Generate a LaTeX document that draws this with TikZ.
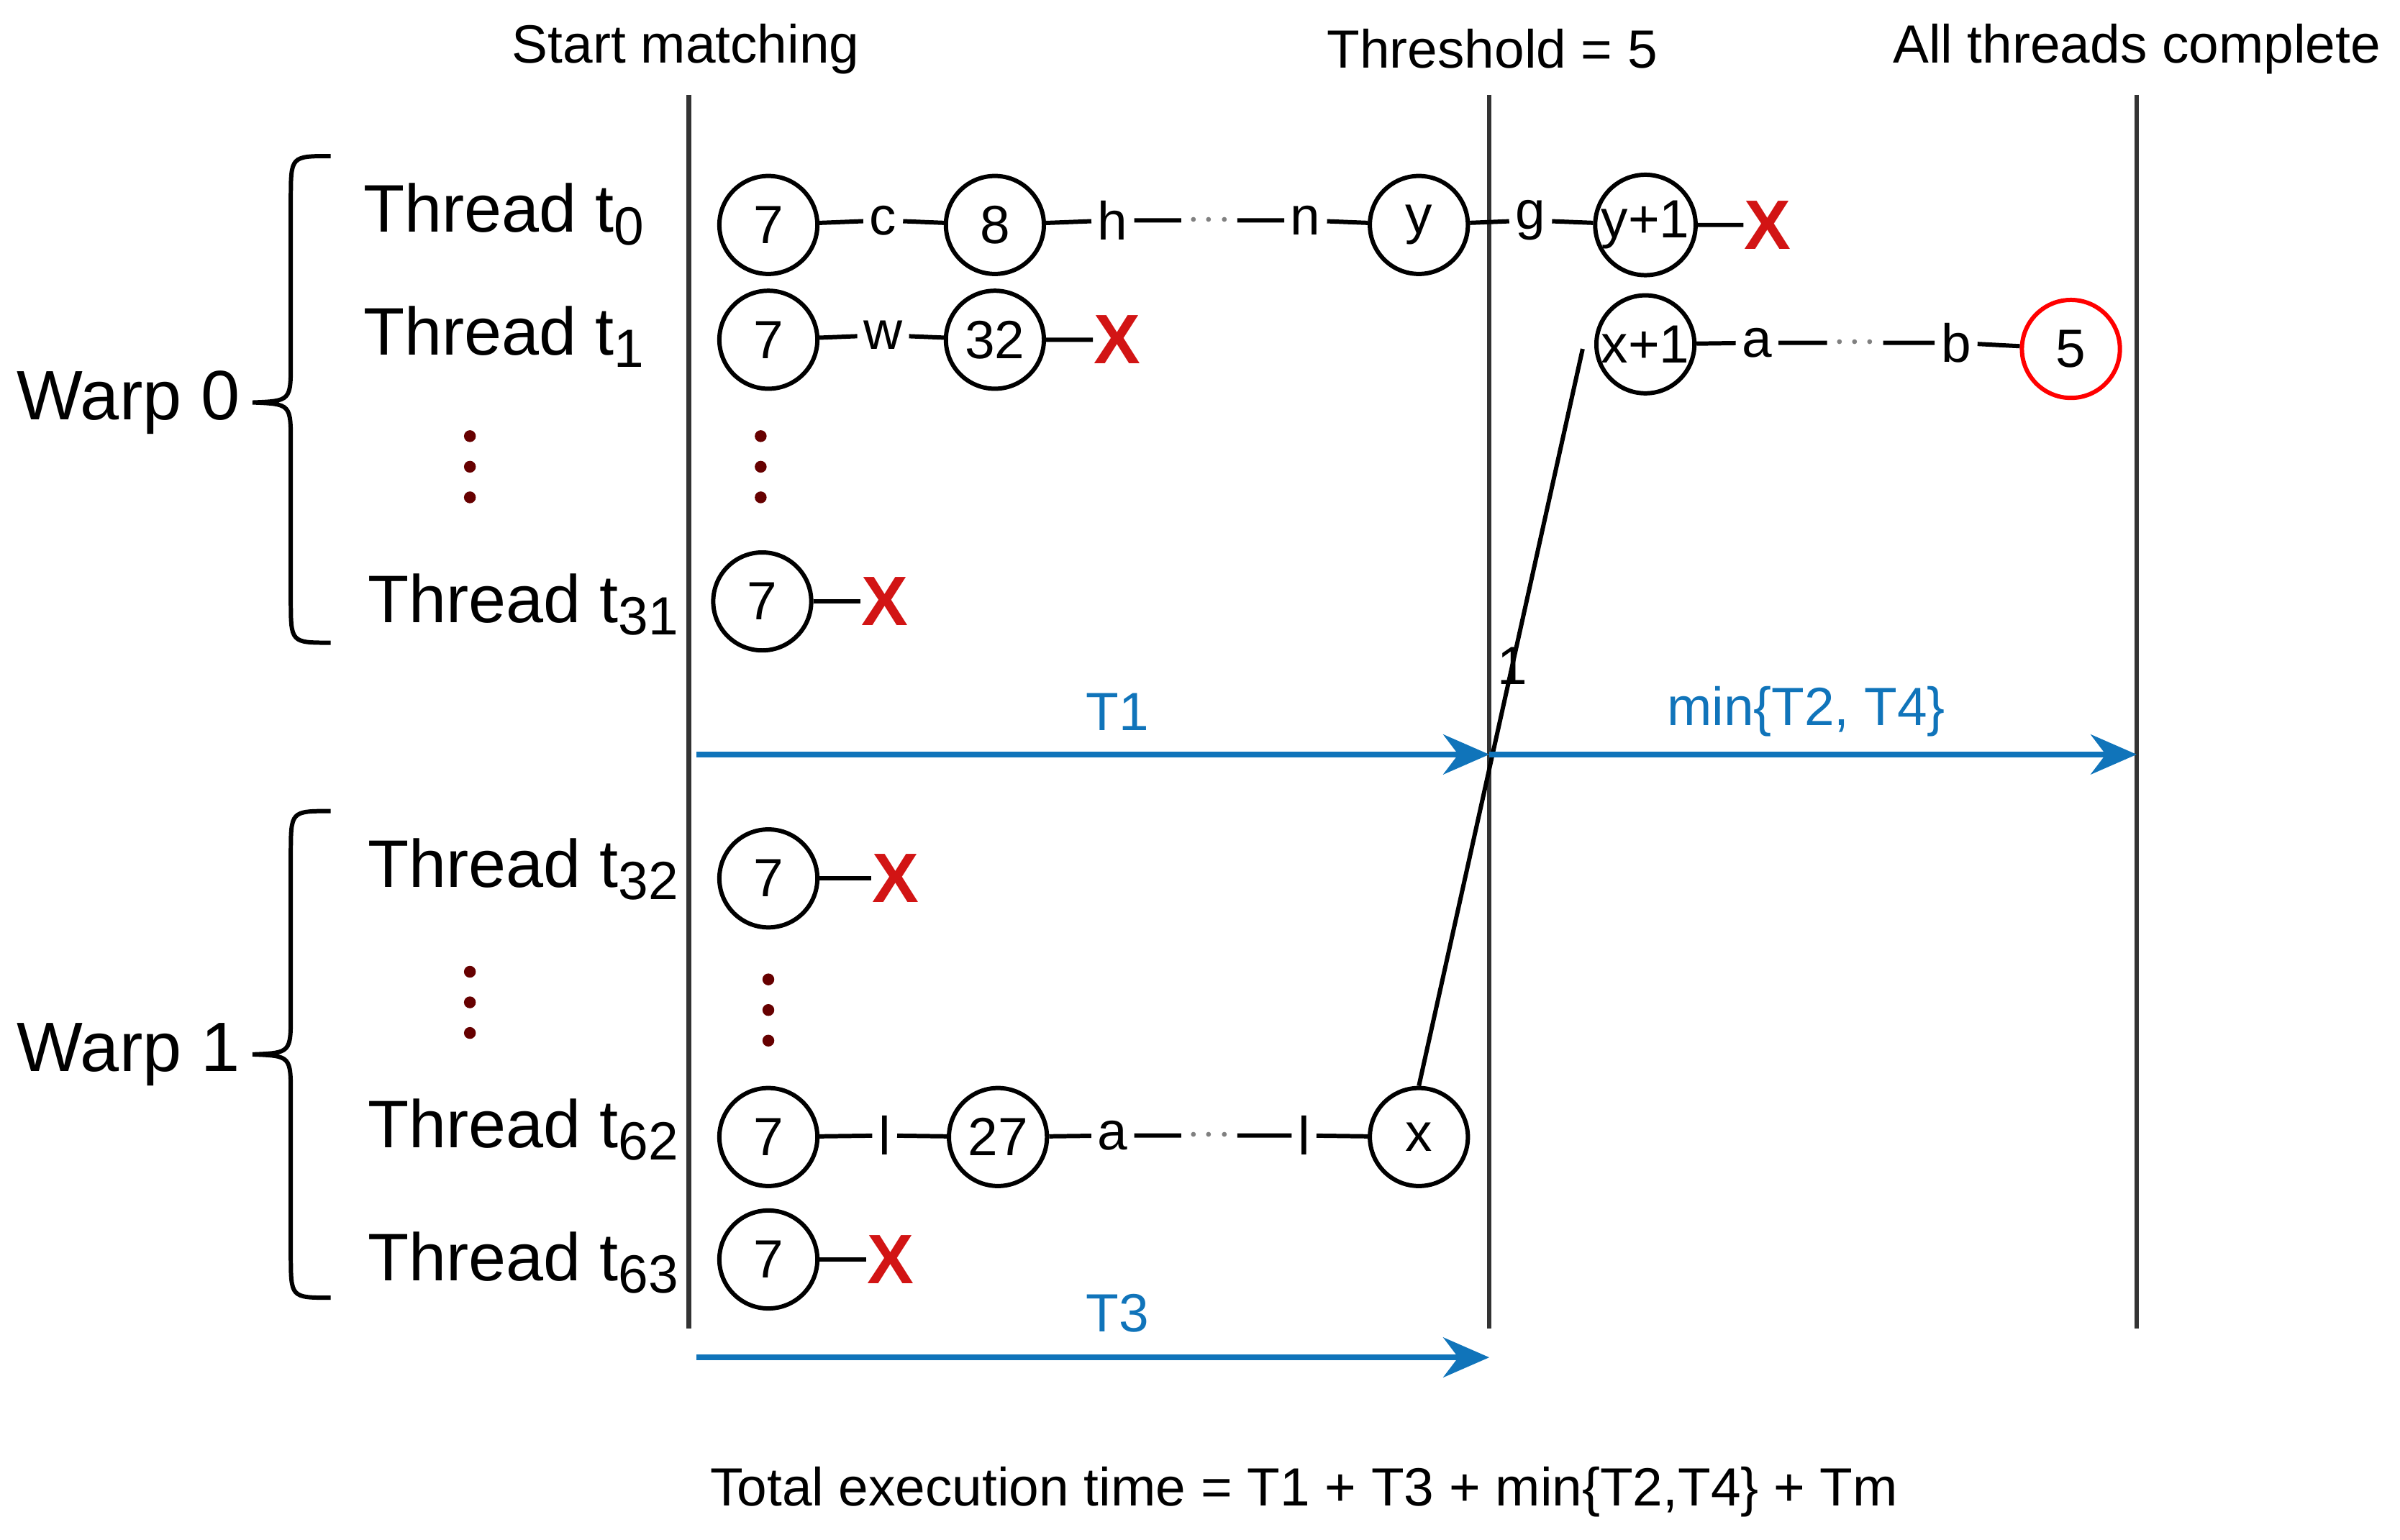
\documentclass[tikz,border=0pt]{standalone}
\usepackage{fontspec}
\setmainfont{Liberation Sans}
\usetikzlibrary{decorations.pathreplacing,arrows.meta}
\definecolor{tblue}{RGB}{16,116,186}
\definecolor{xred}{RGB}{210,20,20}
\newcommand{\sbs}[1]{\raisebox{-0.35ex}{\fontsize{10}{12}\selectfont #1}}
\begin{document}
\begin{tikzpicture}[x=0.01cm,y=-0.01cm,
  st/.style={circle,draw,thick,minimum size=0.64cm,inner sep=0pt,font=\fontsize{10}{12}\selectfont},
  lb/.style={fill=white,inner sep=1pt,font=\fontsize{10}{12}\selectfont},
  dd/.style={fill=white,inner sep=1pt,text=gray,font=\fontsize{8}{10}\selectfont},
  xx/.style={inner sep=0pt,text=xred,font=\fontsize{13}{15}\selectfont\bfseries},
  th/.style={anchor=west,font=\fontsize{12.5}{15}\selectfont},
  hd/.style={font=\fontsize{10}{12}\selectfont},
  ln/.style={thick},
  vl/.style={line width=0.9pt,draw=black!80},
  ar/.style={tblue,line width=1.1pt,-{Stealth[length=3mm,width=2.6mm]}},
  al/.style={text=tblue,font=\fontsize{10}{12}\selectfont},
  vd/.style={circle,fill=black!60!red,inner sep=0pt,minimum size=2.2pt}]
\useasboundingbox (0,0) rectangle (1568,1006);
% verticals
\coordinate (v1t) at (450,62); \coordinate (v1b) at (450,868);
\coordinate (v2t) at (973,62); \coordinate (v2b) at (973,868);
\coordinate (v3t) at (1396,62); \coordinate (v3b) at (1396,868);
\draw[vl] (v1t)--(v1b); \draw[vl] (v2t)--(v2b); \draw[vl] (v3t)--(v3b);
\node[hd] (h1) at (448,32) {Start matching};
\node[hd] (h2) at (975,32) {Threshold = 5};
\node[hd] (h3) at (1396,32) {All threads complete};
% braces
\draw[thick] (216,102) .. controls (190,102) .. (190,130) -- (190,236) .. controls (190,262) .. (165,263) .. controls (190,264) .. (190,290) -- (190,392) .. controls (190,420) .. (216,420);
\draw[thick] (216,530) .. controls (190,530) .. (190,558) -- (190,662) .. controls (190,688) .. (165,689) .. controls (190,690) .. (190,716) -- (190,820) .. controls (190,848) .. (216,848);
\node[font=\fontsize{13}{15}\selectfont] (w0) at (84,263) {Warp 0};
\node[font=\fontsize{13}{15}\selectfont] (w1) at (84,689) {Warp 1};
% thread labels
\node[th] (l0) at (225,140) {Thread t\sbs{0}};
\node[th] (l1) at (225,220) {Thread t\sbs{1}};
\node[th] (l31) at (228,395) {Thread t\sbs{31}};
\node[th] (l32) at (228,568) {Thread t\sbs{32}};
\node[th] (l62) at (228,738) {Thread t\sbs{62}};
\node[th] (l63) at (228,825) {Thread t\sbs{63}};
\foreach \x/\y in {307/305,497/305,307/655,502/660}{
  \node[vd] at (\x,\y-20) {}; \node[vd] at (\x,\y) {}; \node[vd] at (\x,\y+20) {};}
% row t0
\node[st] (a1) at (502,147) {7};
\node[lb] (a2) at (577,144) {c};
\node[st] (a3) at (650,147) {8};
\node[lb] (a4) at (727,144) {h};
\node[dd] (a5) at (790,144) {$\cdot\!\cdot\!\cdot$};
\node[lb] (a6) at (853,144) {n};
\node[st] (a7) at (927,147) {y};
\node[lb] (a8) at (1000,144) {g};
\node[st] (a9) at (1075,147) {y+1};
\node[xx] (a10) at (1155,147) {X};
\draw[ln] (a1)--(a2)--(a3)--(a4)--(a5)--(a6)--(a7)--(a8)--(a9)--(a10);
% row t1
\node[st] (b1) at (502,222) {7};
\node[lb] (b2) at (577,219) {w};
\node[st] (b3) at (650,222) {32};
\node[xx] (b4) at (730,222) {X};
\draw[ln] (b1)--(b2)--(b3)--(b4);
\node[st] (c1) at (1075,225) {x+1};
\node[lb] (c2) at (1148,224) {a};
\node[dd] (c3) at (1212,224) {$\cdot\!\cdot\!\cdot$};
\node[lb] (c4) at (1278,224) {b};
\node[st,draw=red] (c5) at (1353,228) {5};
\draw[ln] (c1)--(c2)--(c3)--(c4)--(c5);
% t31
\node[st] (d1) at (498,393) {7};
\node[xx] (d2) at (578,393) {X};
\draw[ln] (d1)--(d2);
% t32
\node[st] (e1) at (502,574) {7};
\node[xx] (e2) at (585,574) {X};
\draw[ln] (e1)--(e2);
% t62
\node[st] (f1) at (502,743) {7};
\node[lb] (f2) at (578,742) {l};
\node[st] (f3) at (652,743) {27};
\node[lb] (f4) at (727,742) {a};
\node[dd] (f5) at (790,742) {$\cdot\!\cdot\!\cdot$};
\node[lb] (f6) at (852,742) {l};
\node[st] (f7) at (927,743) {x};
\draw[ln] (f1)--(f2)--(f3)--(f4)--(f5)--(f6)--(f7);
% t63
\node[st] (g1) at (502,823) {7};
\node[xx] (g2) at (582,823) {X};
\draw[ln] (g1)--(g2);
% migration line
\coordinate (m2) at (1034,228);
\draw[thick] (f7.north) -- (m2);
\node[font=\fontsize{10}{12}\selectfont] (one) at (988,435) {1};
% arrows
\coordinate (p1) at (455,493); \coordinate (p2) at (973,493); \coordinate (p3) at (1396,493);
\draw[ar] (p1)--(p2); \draw[ar] (p2)--(p3);
\node[al] (t1) at (730,465) {T1};
\node[al] (t24) at (1180,465) {min\{T2, T4\}};
\coordinate (q1) at (455,887); \coordinate (q2) at (973,887);
\draw[ar] (q1)--(q2);
\node[al] (t3) at (730,858) {T3};
\node[hd] (tot) at (852,975) {Total execution time = T1 + T3 + min\{T2,T4\} + Tm};
\end{tikzpicture}
\end{document}
